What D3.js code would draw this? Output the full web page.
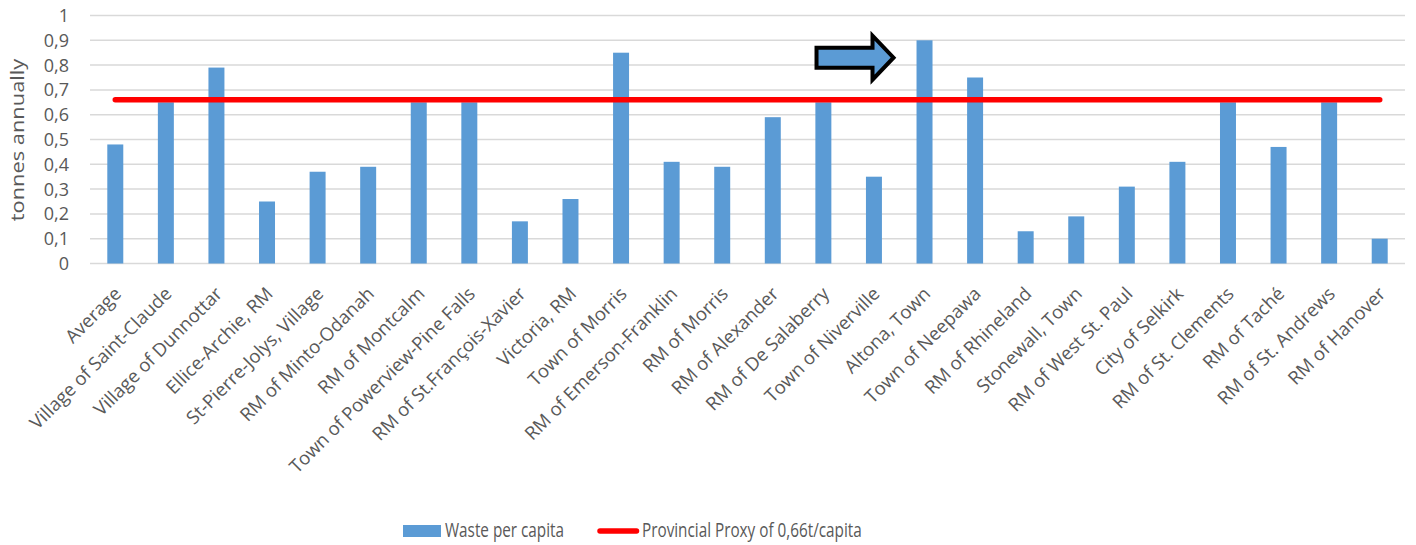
<!DOCTYPE html>
<html>
<head>
<meta charset="utf-8">
<script src="https://cdn.jsdelivr.net/npm/d3@7"></script>
<style>
  body { margin: 0; background: #ffffff; }
  svg text { font-family: "Open Sans", "Noto Sans", sans-serif; fill: #595959; }
</style>
</head>
<body>
<svg id="chart" width="1416" height="545"></svg>
<script>
// Municipal waste generated per person (tonnes per year)
const categories = [
  "Average", "Village of Saint-Claude", "Village of Dunnottar", "Ellice-Archie, RM",
  "St-Pierre-Jolys, Village", "RM of Minto-Odanah", "RM of Montcalm",
  "Town of Powerview-Pine Falls", "RM of St.François-Xavier", "Victoria, RM",
  "Town of Morris", "RM of Emerson-Franklin", "RM of Morris", "RM of Alexander",
  "RM of De Salaberry", "Town of Niverville", "Altona, Town", "Town of Neepawa",
  "RM of Rhineland", "Stonewall, Town", "RM of West St. Paul", "City of Selkirk",
  "RM of St. Clements", "RM of Taché", "RM of St. Andrews", "RM of Hanover"
];
const wastePerCapita = [
  0.48, 0.65, 0.79, 0.25, 0.37, 0.39, 0.65, 0.65, 0.17, 0.26,
  0.85, 0.41, 0.39, 0.59, 0.65, 0.35, 0.90, 0.75, 0.13, 0.19,
  0.31, 0.41, 0.65, 0.47, 0.65, 0.10
];
const provincialProxy = 0.66;
const yTickValues = [0, 0.1, 0.2, 0.3, 0.4, 0.5, 0.6, 0.7, 0.8, 0.9, 1];
const yTickLabels = ["0", "0,1", "0,2", "0,3", "0,4", "0,5", "0,6", "0,7", "0,8", "0,9", "1"];
const yAxisTitle = "tonnes annually";
const legendLabels = ["Waste per capita", "Provincial Proxy of 0,66t/capita"];
const highlightedCategory = "Altona, Town";
const arrowLevel = 0.83;

const BAR = "#5b9bd5", RED = "#ff0000", GRID = "#d9d9d9";
const plot = { left: 90, right: 1405, top: 15.5, bottom: 263.5 };

const svg = d3.select("#chart");

const x = d3.scaleBand()
  .domain(categories)
  .range([plot.left, plot.right])
  .paddingInner(0.684)
  .paddingOuter(0.342);
const y = d3.scaleLinear().domain([0, 1]).range([plot.bottom, plot.top]);
const center = c => x(c) + x.bandwidth() / 2;

// text placed at (tx,ty), stretched along its own vertical axis by sy before rotation
function placedText(parent, tx, ty, sy, rot, str, size, anchor) {
  const g = parent.append("g")
    .attr("transform", `translate(${tx},${ty}) rotate(${rot}) scale(1,${sy})`);
  g.append("text")
    .attr("text-anchor", anchor)
    .attr("font-size", size)
    .text(str);
  return g;
}

// horizontal gridlines
svg.append("g").selectAll("line")
  .data(yTickValues)
  .join("line")
  .attr("x1", plot.left).attr("x2", plot.right)
  .attr("y1", d => y(d)).attr("y2", d => y(d))
  .attr("stroke", GRID).attr("stroke-width", 1.5);

// y tick labels
const yLab = svg.append("g");
yTickValues.forEach((v, i) => {
  placedText(yLab, 69, y(v) + 6.5, 1.0, 0, yTickLabels[i], 18, "end");
});

// y axis title
const title = svg.append("g").attr("transform", "translate(24,140) rotate(-90) scale(1.15,1)");
title.append("text")
  .attr("text-anchor", "middle")
  .attr("font-size", 19)
  .text(yAxisTitle);

// bars
svg.append("g").selectAll("rect")
  .data(categories.map((c, i) => ({ c, v: wastePerCapita[i] })))
  .join("rect")
  .attr("x", d => x(d.c))
  .attr("width", x.bandwidth())
  .attr("y", d => y(d.v))
  .attr("height", d => y(0) - y(d.v))
  .attr("fill", BAR);

// provincial proxy line
svg.append("line")
  .attr("x1", center(categories[0]))
  .attr("x2", center(categories[categories.length - 1]))
  .attr("y1", y(provincialProxy)).attr("y2", y(provincialProxy))
  .attr("stroke", RED).attr("stroke-width", 5.5)
  .attr("stroke-linecap", "round");

// category labels
const xLab = svg.append("g");
categories.forEach(c => {
  placedText(xLab, center(c) + 7, 295, 1.0, -45, c, 18.5, "end");
});

// arrow pointing at the highlighted municipality
const tipX = center(highlightedCategory) - 31;
const midY = y(arrowLevel);
const arrowPts = [
  [tipX - 77, midY - 10], [tipX - 21, midY - 10], [tipX - 21, midY - 22],
  [tipX, midY], [tipX - 21, midY + 22], [tipX - 21, midY + 10], [tipX - 77, midY + 10]
];
svg.append("path")
  .attr("d", d3.line()(arrowPts) + "Z")
  .attr("fill", BAR)
  .attr("stroke", "#000000")
  .attr("stroke-width", 4)
  .attr("stroke-linejoin", "miter");

// legend
const leg = svg.append("g");
leg.append("rect").attr("x", 403).attr("y", 525).attr("width", 38).attr("height", 12).attr("fill", BAR);
placedText(leg, 445, 537, 1.25, 0, legendLabels[0], 15.3, "start");
leg.append("line")
  .attr("x1", 600).attr("x2", 636.5).attr("y1", 531).attr("y2", 531)
  .attr("stroke", RED).attr("stroke-width", 5.5).attr("stroke-linecap", "round");
placedText(leg, 642, 537, 1.25, 0, legendLabels[1], 15.3, "start");
</script>
</body>
</html>
